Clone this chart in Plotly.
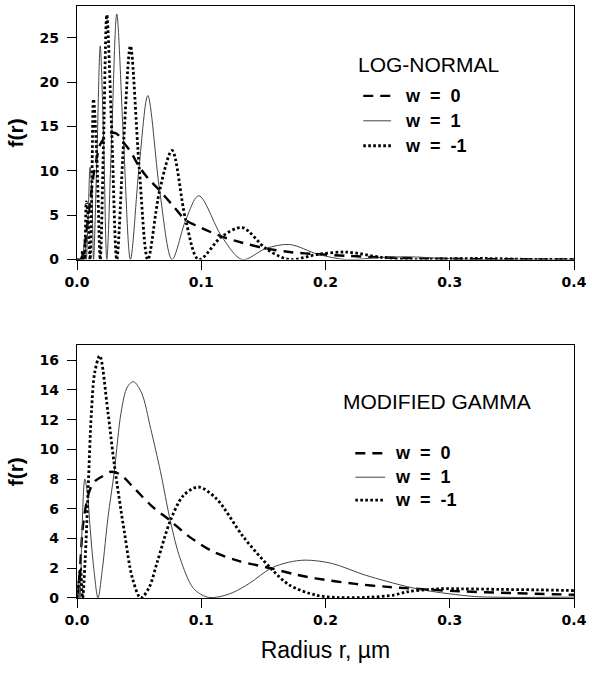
import plotly.graph_objects as go

# ---- data (r in micrometres, f(r)) ----
# top panel: log-normal
ln_r_w0 = [0.0, 0.003, 0.0045, 0.006, 0.0075, 0.009, 0.0105, 0.0119, 0.0133, 0.016, 0.0187, 0.0214,
           0.024, 0.028, 0.032, 0.0375, 0.043, 0.050, 0.057, 0.0665, 0.0765, 0.0875, 0.098, 0.1165,
           0.133, 0.152, 0.171, 0.194, 0.217, 0.245, 0.27, 0.30, 0.33, 0.36, 0.40]
ln_f_w0 = [0, 0, 0.5, 1.3, 3.0, 4.8, 6.5, 8.0, 9.5, 11.5, 13.0, 13.6,
           14.0, 14.3, 14.2, 13.2, 12.2, 10.5, 9.2, 7.8, 6.2, 4.45, 3.7, 2.6,
           1.9, 1.25, 0.85, 0.6, 0.42, 0.25, 0.15, 0.09, 0.05, 0.03, 0.015]

ln_r_w1 = [0.0, 0.003, 0.0045, 0.00525, 0.006, 0.00675, 0.0075, 0.009, 0.0105, 0.0119, 0.0133, 0.016,
           0.0187, 0.0214, 0.024, 0.028, 0.032, 0.0375, 0.043, 0.050, 0.057, 0.0665, 0.0765, 0.0875,
           0.098, 0.1165, 0.133, 0.152, 0.171, 0.194, 0.217, 0.245, 0.27, 0.30, 0.33, 0.36, 0.40]
ln_f_w1 = [0, 0, 0, 1.0, 2.4, 1.4, 0, 4.8, 10.4, 8.0, 0, 11.5,
           24.1, 13.6, 0, 14.3, 27.7, 13.2, 0, 10.5, 18.5, 7.8, 0, 4.45,
           7.2, 2.6, 0, 1.25, 1.7, 0.6, 0, 0.25, 0.3, 0.09, 0, 0.03, 0.02]

ln_r_wm1 = [0.0, 0.0035, 0.0045, 0.00525, 0.006, 0.00675, 0.0075, 0.009, 0.0105, 0.0119, 0.0133, 0.016,
            0.0187, 0.0214, 0.024, 0.028, 0.032, 0.0375, 0.043, 0.050, 0.057, 0.0665, 0.0765, 0.0875,
            0.098, 0.1165, 0.133, 0.152, 0.171, 0.194, 0.217, 0.245, 0.27, 0.30, 0.33, 0.36, 0.40]
ln_f_wm1 = [0, 0, 1.0, 0.9, 0, 2.8, 6.5, 4.8, 0, 8.0, 18.1, 11.5,
            0, 13.6, 27.6, 14.3, 0, 13.2, 24.1, 10.5, 0, 7.8, 12.3, 4.45,
            0, 2.6, 3.6, 1.25, 0, 0.6, 0.85, 0.25, 0, 0.09, 0.12, 0.03, 0.02]

# bottom panel: modified gamma
mg_r_w0 = [0.0, 0.002, 0.005, 0.010, 0.015, 0.0196, 0.0275, 0.035, 0.046, 0.060, 0.0751, 0.090,
           0.110, 0.130, 0.156, 0.175, 0.192, 0.224, 0.25, 0.28, 0.30, 0.35, 0.40]
mg_f_w0 = [0, 1.5, 5.0, 7.2, 7.9, 8.15, 8.5, 8.3, 7.4, 6.2, 5.2, 4.15,
           3.1, 2.5, 2.0, 1.6, 1.32, 0.95, 0.75, 0.58, 0.48, 0.33, 0.22]

mg_r_w1 = [0.0, 0.0012, 0.0024, 0.004, 0.0063, 0.0085, 0.0103, 0.0135, 0.0169, 0.0205, 0.0249, 0.030,
           0.0355, 0.0405, 0.0455, 0.052, 0.0593, 0.0672, 0.0751, 0.083, 0.0937, 0.104, 0.112, 0.125,
           0.139, 0.156, 0.17, 0.184, 0.205, 0.232, 0.266, 0.285, 0.30, 0.32, 0.35, 0.40]
mg_f_w1 = [0, 1.2, 0, 4.5, 8.0, 7.0, 5.0, 2.0, 0, 2.0, 5.4, 8.5,
           12.5, 14.2, 14.56, 13.8, 11.4, 8.5, 5.2, 2.66, 0.65, 0.08, 0.05, 0.35,
           1.0, 2.0, 2.4, 2.55, 2.33, 1.54, 0.76, 0.45, 0.28, 0.1, 0.04, 0.06]

mg_r_wm1 = [0.0, 0.0015, 0.0028, 0.0045, 0.0065, 0.009, 0.0116, 0.0143, 0.0183, 0.0249, 0.030, 0.0381,
            0.0447, 0.0513, 0.058, 0.0645, 0.0751, 0.0857, 0.0976, 0.112, 0.134, 0.156, 0.171, 0.192,
            0.21, 0.235, 0.255, 0.266, 0.28, 0.292, 0.31, 0.34, 0.37, 0.40]
mg_f_wm1 = [0, 1.0, 2.0, 0, 2.5, 7.4, 12.5, 15.2, 16.3, 12.5, 9.0, 4.45,
            1.3, 0, 0.7, 2.4, 5.2, 6.9, 7.47, 6.7, 4.1, 2.0, 0.87, 0.2,
            0.03, 0.05, 0.2, 0.42, 0.55, 0.62, 0.62, 0.58, 0.55, 0.5]

x_ticks = [0.0, 0.1, 0.2, 0.3, 0.4]
x_ticklabels = ["0.0", "0.1", "0.2", "0.3", "0.4"]
ln_yticks = [0, 5, 10, 15, 20, 25]
mg_yticks = [0, 2, 4, 6, 8, 10, 12, 14, 16]
legend_names = ["w = 0", "w = 1", "w = -1"]
panel_titles = ["LOG-NORMAL", "MODIFIED GAMMA"]

# ---- styles ----
W, H = 592, 677
ML, MR, MT, MB = 77, 15, 5, 79
styles = [
    dict(color="black", width=2.4, dash="10px,7px"),   # w = 0
    dict(color="#444444", width=1.0, dash="solid"),    # w = 1
    dict(color="black", width=2.8, dash="2.6px,2.4px"),  # w = -1
]

def px2x(px):
    return (px - ML) / (W - ML - MR)

def py2y(py):
    return (H - MB - py) / (H - MT - MB)

fig = go.Figure()
top = [(ln_r_w0, ln_f_w0), (ln_r_w1, ln_f_w1), (ln_r_wm1, ln_f_wm1)]
bot = [(mg_r_w0, mg_f_w0), (mg_r_w1, mg_f_w1), (mg_r_wm1, mg_f_wm1)]
for i, (r, f) in enumerate(top):
    fig.add_trace(go.Scatter(x=r, y=f, mode="lines", name=legend_names[i], showlegend=False,
                             line=dict(shape="spline", smoothing=0.9, **styles[i]),
                             xaxis="x", yaxis="y"))
for i, (r, f) in enumerate(bot):
    fig.add_trace(go.Scatter(x=r, y=f, mode="lines", name=legend_names[i], showlegend=False,
                             line=dict(shape="spline", smoothing=0.9, **styles[i]),
                             xaxis="x2", yaxis="y2"))

tickfont = dict(family="DejaVu Sans", size=14, color="black", weight="bold")
axis_common = dict(showline=True, linecolor="black", linewidth=1.3, mirror=True,
                   ticks="outside", ticklen=9, tickwidth=1, tickcolor="black",
                   showgrid=False, zeroline=False, tickfont=tickfont)
ytitle_font = dict(family="Liberation Sans", size=21, color="black", weight="bold")

# top panel spans 5..259 px, bottom panel 345..598 px
fig.update_layout(
    width=W, height=H, margin=dict(l=ML, r=MR, t=MT, b=MB),
    paper_bgcolor="white", plot_bgcolor="white",
    xaxis=dict(domain=[0, 1], range=[0, 0.4], anchor="y", tickvals=x_ticks, ticktext=x_ticklabels, **axis_common),
    yaxis=dict(domain=[py2y(259), 1], range=[0, 28.6], anchor="x", tickvals=ln_yticks,
               ticklabelstandoff=5, title=dict(text="f(r)", font=ytitle_font, standoff=10),
               **axis_common),
    xaxis2=dict(domain=[0, 1], range=[0, 0.4], anchor="y2", tickvals=x_ticks, ticktext=x_ticklabels,
                title=dict(text="Radius r, µm", font=dict(family="Liberation Sans", size=23, color="black"), standoff=14),
                **axis_common),
    yaxis2=dict(domain=[0, py2y(345)], range=[0, 17.0], anchor="x2", tickvals=mg_yticks,
                ticklabelstandoff=5, title=dict(text="f(r)", font=ytitle_font, standoff=10),
                **axis_common),
)

# in-plot legends: title, sample lines, labels
legend_layout = [
    dict(title_x=431, title_y=64, rows=[95, 120, 145], line_x=(365, 393), text_x=405),
    dict(title_x=439, title_y=401, rows=[453, 477, 500], line_x=(357, 387), text_x=395),
]
for p, lay in enumerate(legend_layout):
    fig.add_annotation(x=px2x(lay["title_x"]), y=py2y(lay["title_y"]), xref="paper", yref="paper",
                       text=panel_titles[p], showarrow=False, xanchor="center", yanchor="middle",
                       font=dict(family="Liberation Sans", size=21, color="black"))
    for i, ry in enumerate(lay["rows"]):
        fig.add_shape(type="line", xref="paper", yref="paper",
                      x0=px2x(lay["line_x"][0]), x1=px2x(lay["line_x"][1]), y0=py2y(ry), y1=py2y(ry),
                      line=styles[i])
        fig.add_annotation(x=px2x(lay["text_x"]), y=py2y(ry), xref="paper", yref="paper",
                           text=legend_names[i].replace(" ", "\u00a0\u00a0"), showarrow=False,
                           xanchor="left", yanchor="middle",
                           font=dict(family="Liberation Sans", size=18, color="black", weight="bold"))

# drop the page's default body margin so the figure sits at the window's corner
fig.write_html("out.html", config={"displayModeBar": False},
               post_script="document.body.style.margin='0';")
